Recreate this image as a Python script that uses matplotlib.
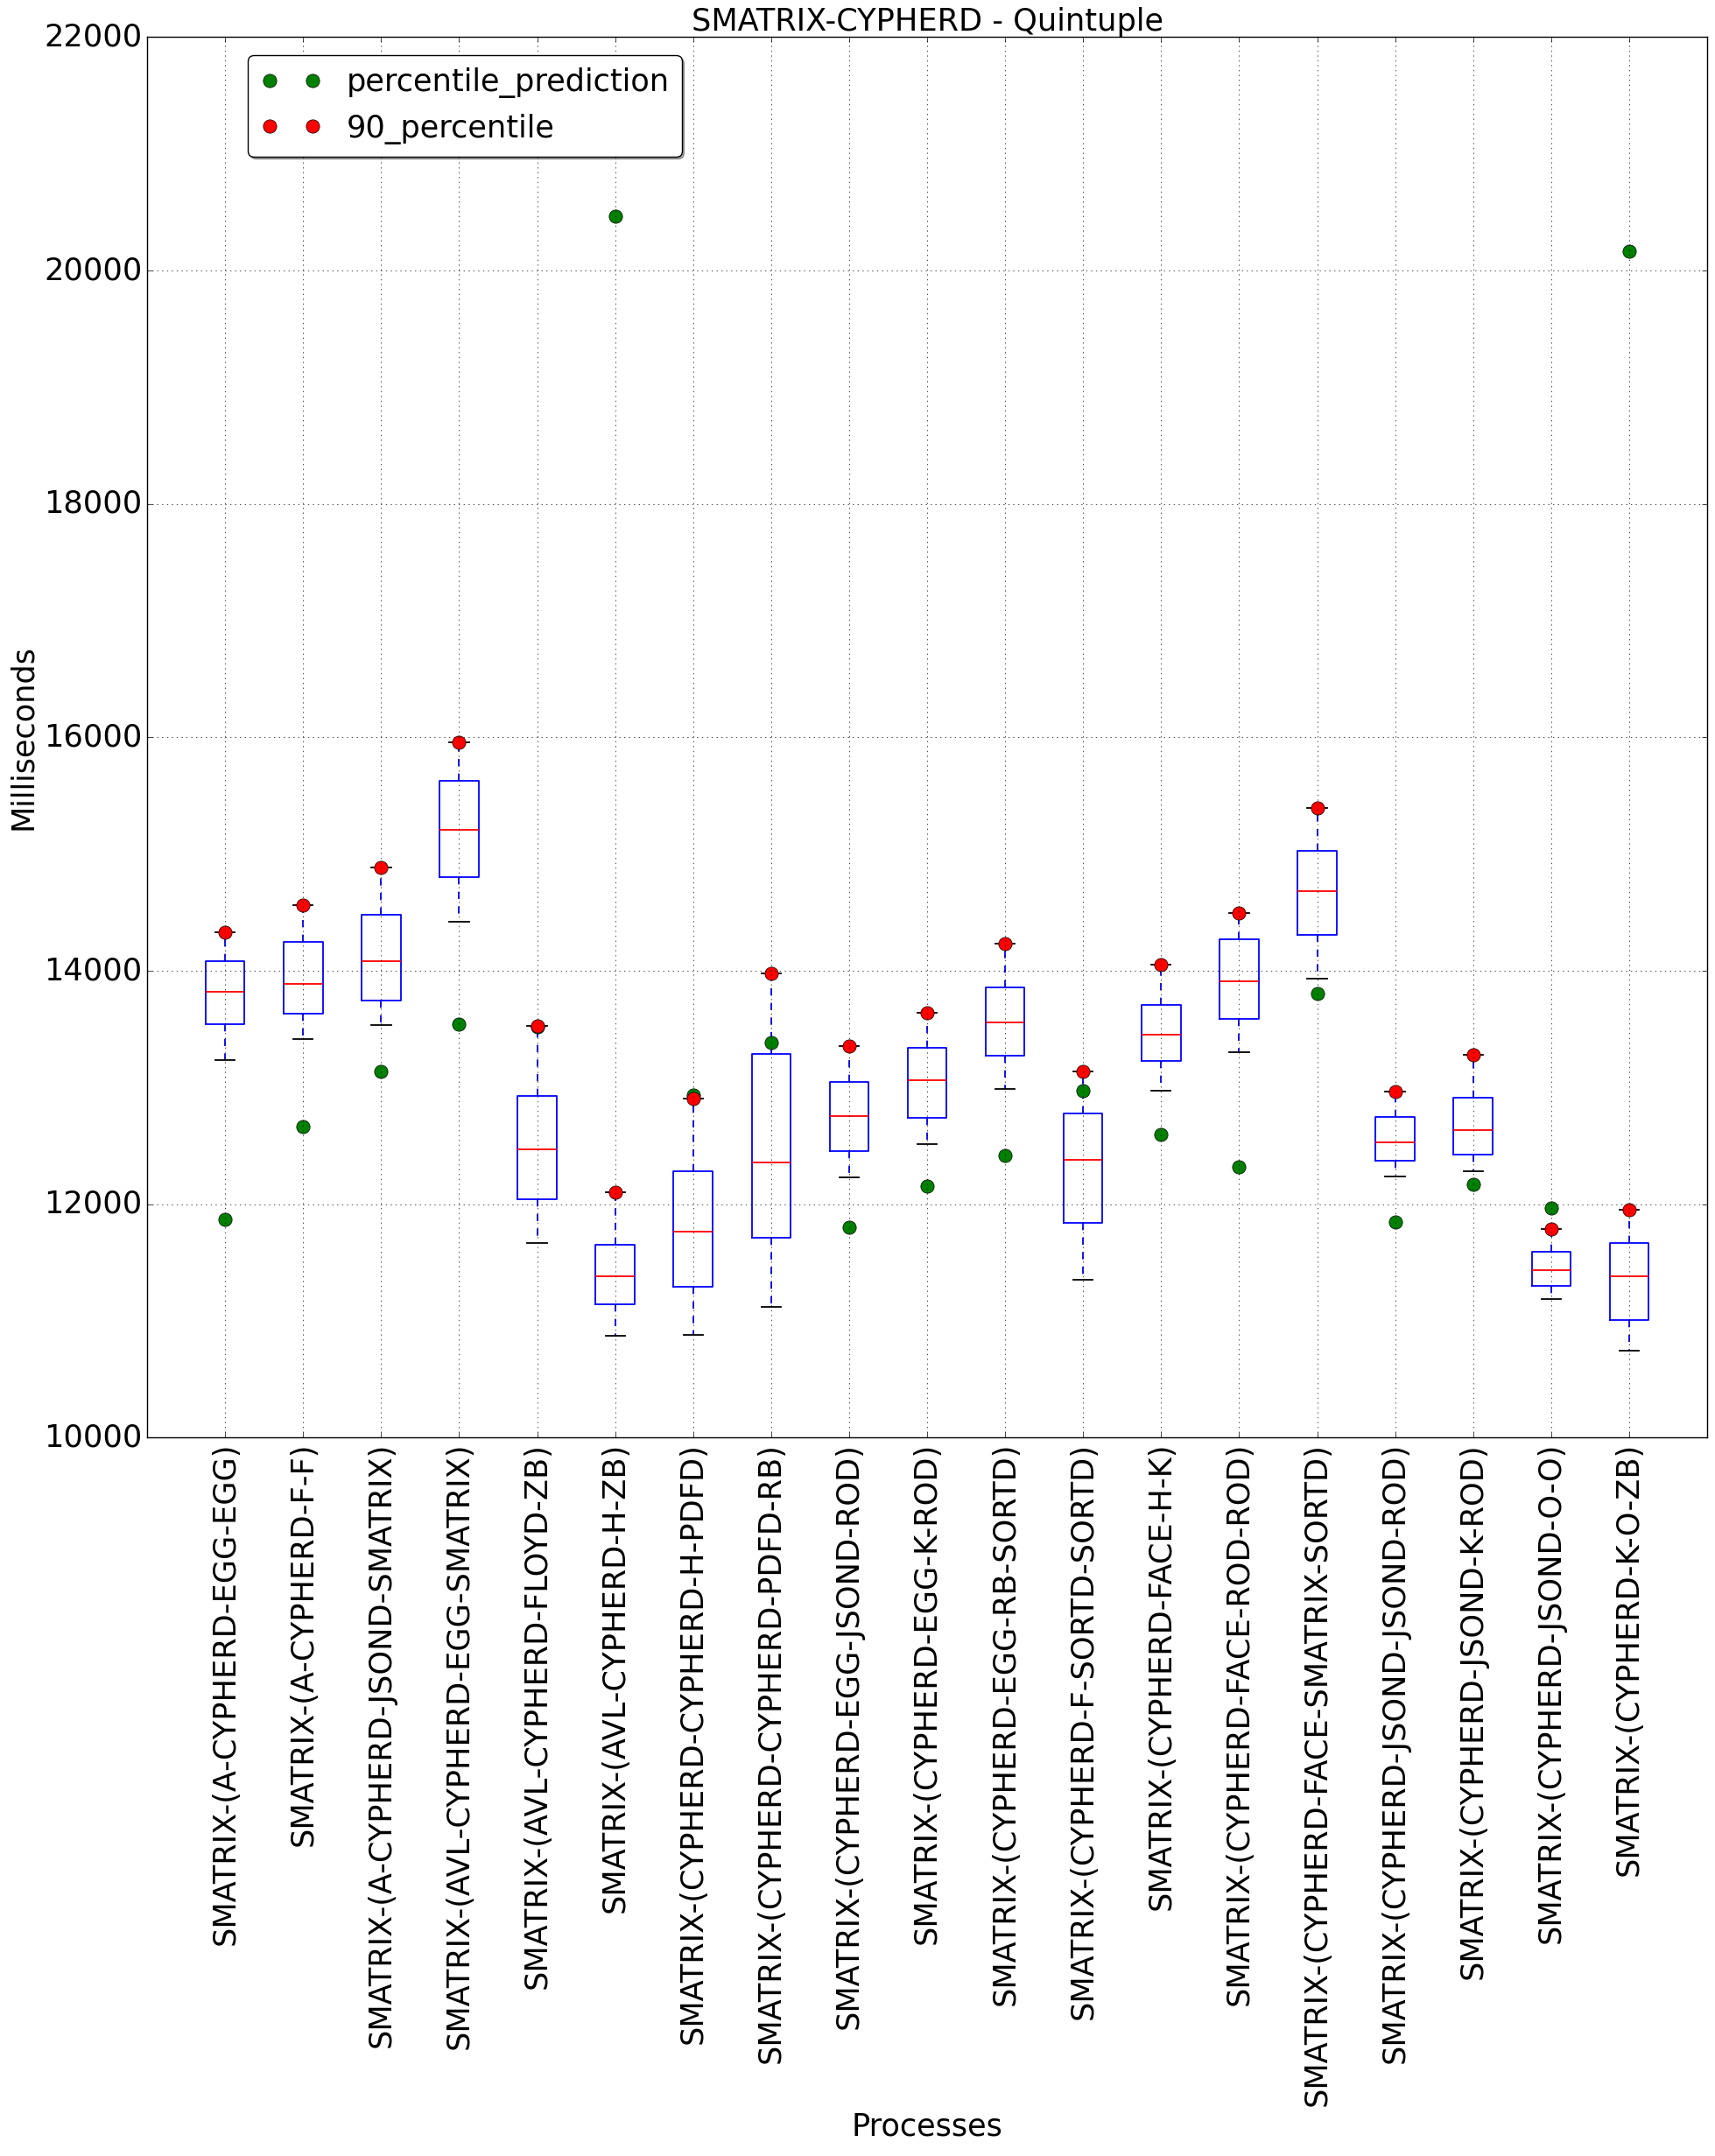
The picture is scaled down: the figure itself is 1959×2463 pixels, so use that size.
import numpy as np
import matplotlib
matplotlib.use("Agg")
import matplotlib.pyplot as plt

plt.style.use("classic")

processes = [
    "SMATRIX-(A-CYPHERD-EGG-EGG)",
    "SMATRIX-(A-CYPHERD-F-F)",
    "SMATRIX-(A-CYPHERD-JSOND-SMATRIX)",
    "SMATRIX-(AVL-CYPHERD-EGG-SMATRIX)",
    "SMATRIX-(AVL-CYPHERD-FLOYD-ZB)",
    "SMATRIX-(AVL-CYPHERD-H-ZB)",
    "SMATRIX-(CYPHERD-CYPHERD-H-PDFD)",
    "SMATRIX-(CYPHERD-CYPHERD-PDFD-RB)",
    "SMATRIX-(CYPHERD-EGG-JSOND-ROD)",
    "SMATRIX-(CYPHERD-EGG-K-ROD)",
    "SMATRIX-(CYPHERD-EGG-RB-SORTD)",
    "SMATRIX-(CYPHERD-F-SORTD-SORTD)",
    "SMATRIX-(CYPHERD-FACE-H-K)",
    "SMATRIX-(CYPHERD-FACE-ROD-ROD)",
    "SMATRIX-(CYPHERD-FACE-SMATRIX-SORTD)",
    "SMATRIX-(CYPHERD-JSOND-JSOND-ROD)",
    "SMATRIX-(CYPHERD-JSOND-K-ROD)",
    "SMATRIX-(CYPHERD-JSOND-O-O)",
    "SMATRIX-(CYPHERD-K-O-ZB)",
]

# box statistics (ms)
whis_lo = [13238, 13412, 13533, 14418, 11665, 10869, 10881, 11121, 12231, 12512,
           12984, 11352, 12970, 13301, 13933, 12241, 12285, 11191, 10745]
q1 = [13546, 13630, 13747, 14800, 12046, 11139, 11296, 11712, 12452, 12742,
      13275, 11842, 13226, 13591, 14305, 12369, 12423, 11302, 11010]
median = [13818, 13888, 14079, 15205, 12472, 11384, 11768, 12360, 12757, 13059,
          13557, 12383, 13450, 13908, 14680, 12533, 12634, 11436, 11386]
q3 = [14086, 14250, 14478, 15624, 12924, 11655, 12286, 13284, 13050, 13338,
      13856, 12780, 13706, 14271, 15030, 12745, 12909, 11593, 11668]
p90 = [14327, 14559, 14884, 15956, 13527, 12105, 12902, 13976, 13352, 13640,
       14233, 13134, 14052, 14495, 15392, 12963, 13278, 11788, 11956]
prediction = [11870, 12668, 13141, 13546, 13520, 20462, 12935, 13388, 11799, 12155,
              12420, 12975, 12596, 12322, 13805, 11845, 12168, 11970, 20165]

FS = 25.3

fig = plt.figure(figsize=(19.59, 24.63), dpi=100, facecolor="white")
fig.subplots_adjust(left=0.0858, right=0.9954, top=0.9828, bottom=0.3332)
ax = fig.add_subplot(111)

stats = []
for i in range(len(processes)):
    stats.append(dict(whislo=whis_lo[i], q1=q1[i], med=median[i], q3=q3[i],
                      whishi=p90[i], fliers=[], label=processes[i]))

pos = np.arange(1, len(processes) + 1)
ax.bxp(stats, positions=pos, widths=0.5, showfliers=False,
       boxprops=dict(color="blue", linewidth=1.3),
       whiskerprops=dict(color="blue", linestyle="--", linewidth=1.3),
       capprops=dict(color="black", linewidth=1.3),
       medianprops=dict(color="red", linewidth=1.3))

ax.plot(pos, prediction, "o", color="green", markersize=11, markeredgecolor="k",
        markeredgewidth=0.5, label="percentile_prediction")
ax.plot(pos, p90, "o", color="red", markersize=11, markeredgecolor="k",
        markeredgewidth=0.5, label="90_percentile")

ax.set_xlim(0, 20)
ax.set_ylim(10000, 22000)
ax.set_yticks(np.arange(10000, 22001, 2000))
ax.set_xticks(pos)
ax.set_xticklabels(processes, rotation=90, fontsize=FS)
ax.tick_params(axis="y", labelsize=FS)
ax.grid(True)

ax.set_title("SMATRIX-CYPHERD - Quintuple", fontsize=FS)
ax.set_xlabel("Processes", fontsize=FS)
ax.set_ylabel("Milliseconds", fontsize=FS)

leg = ax.legend(loc="upper left", bbox_to_anchor=(0.0645, 0.987), borderaxespad=0,
                numpoints=2, fancybox=True, shadow=True, fontsize=FS)

fig.savefig("out.png", dpi=100, facecolor="white")
